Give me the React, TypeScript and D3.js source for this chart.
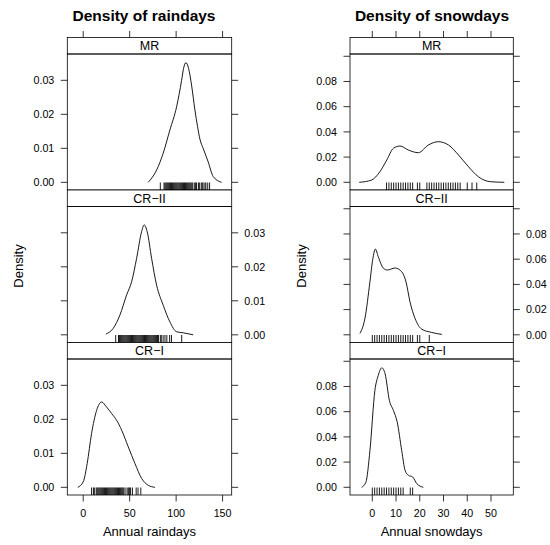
import React from 'react';
import * as d3 from 'd3';

const panelNames = ['MR', 'CR−II', 'CR−I'];

// density curves: [value, density]
const rainMR = [[70, 0], [79, 0.0036], [86, 0.0085], [93.3, 0.0154], [100.5, 0.0222], [105.9, 0.030], [108, 0.0335], [110.5, 0.0352], [113.4, 0.0335], [116.6, 0.0286], [120.2, 0.0213], [123, 0.0165], [125.6, 0.0127], [129.1, 0.010], [134.5, 0.006], [139.9, 0.0017], [148.9, 0]];
const rainCR2 = [[24.4, 0.0002], [32.3, 0.0019], [39.5, 0.0058], [46.7, 0.0117], [52.1, 0.0156], [57.5, 0.0225], [62.8, 0.0303], [65.6, 0.0323], [68.9, 0.0303], [73.6, 0.0225], [79, 0.0146], [86.1, 0.0087], [93.3, 0.0038], [100.5, 0.0009], [107.6, 0.0006], [118.4, 0]];
const rainCR1 = [[-5.8, 0], [0, 0.0016], [4.3, 0.007], [9, 0.0158], [14.4, 0.0226], [19.8, 0.0251], [25.2, 0.0236], [30.6, 0.0217], [36, 0.0197], [41.4, 0.0168], [48.5, 0.0119], [55.7, 0.007], [62.9, 0.0026], [70, 0.0006], [77.2, 0]];

const snowMR = [[-5.5, 0], [-0.3, 0.0018], [3.2, 0.0084], [6.1, 0.0177], [8.9, 0.027], [11.7, 0.0288], [15.2, 0.0256], [19.4, 0.0235], [23.6, 0.0296], [27.8, 0.0322], [32.1, 0.0296], [36.3, 0.0217], [40.5, 0.0124], [44.7, 0.0044], [49.7, 0.0005], [55.6, 0]];
const snowCR2 = [[-5.2, 0.0011], [-3.1, 0.013], [-1, 0.042], [0.2, 0.060], [1.3, 0.068], [2.5, 0.062], [4.6, 0.053], [6.3, 0.0514], [9.6, 0.053], [12.4, 0.050], [14.2, 0.042], [15.9, 0.026], [18, 0.013], [20.8, 0.0045], [25, 0.0019], [29.3, 0.0003]];
const snowCR1 = [[-4.5, 0], [-2.7, 0.004], [-1, 0.029], [1.1, 0.077], [2.5, 0.0887], [4, 0.0948], [5.4, 0.090], [7.2, 0.0689], [8.9, 0.061], [10.5, 0.0517], [12.4, 0.029], [13.8, 0.0135], [15.2, 0.0095], [17, 0.0082], [18.7, 0.003], [21.5, 0]];

// rug observations
const rainMRRug = [83, 87, 88, 89, 90, 91, 92, 93, 94, 95, 96, 97, 98, 99, 100, 101, 102, 103, 104, 105, 106, 107, 108, 109, 110, 111, 112, 113, 114, 115, 116, 117, 118, 120, 121, 122, 124, 125, 127, 128, 129, 131, 132, 134, 136];
const rainCR2Rug = [35, 38, 39, 40, 41, 42, 43, 44, 45, 46, 47, 48, 49, 50, 51, 52, 53, 54, 55, 56, 57, 58, 59, 60, 61, 62, 63, 64, 65, 66, 67, 68, 69, 70, 71, 72, 73, 74, 75, 76, 77, 78, 79, 80, 81, 83, 84, 86, 88, 90, 93, 95, 106];
const rainCR1Rug = [9, 11, 12, 14, 15, 16, 17, 18, 19, 20, 21, 22, 23, 24, 25, 26, 27, 28, 29, 30, 31, 32, 33, 34, 35, 36, 37, 38, 39, 40, 41, 42, 43, 44, 46, 48, 49, 50, 51, 53, 57, 59, 62];
const snowMRRug = [6, 7, 8, 9, 10, 11, 12, 13, 14, 15, 16, 17, 19, 20, 23, 24, 25, 26, 27, 28, 29, 30, 31, 32, 33, 34, 35, 36, 37, 40, 42, 44];
const snowCR2Rug = [0, 1, 2, 3, 4, 5, 6, 7, 8, 9, 10, 11, 12, 13, 14, 15, 16, 17, 19, 20, 24];
const snowCR1Rug = [0, 1, 2, 3, 4, 5, 6, 7, 8, 9, 10, 11, 12, 13, 16, 17];

const rainXTicks = [0, 50, 100, 150];
const snowXTicks = [0, 10, 20, 30, 40, 50];
const rainYTicks = [0, 0.01, 0.02, 0.03];
const snowYTicks = [0, 0.02, 0.04, 0.06, 0.08, 0.10];
const snowYLabelled = [0, 0.02, 0.04, 0.06, 0.08];

const FONT = 'Liberation Sans, Arial, Helvetica, sans-serif';
const TOP = 37.5;
const STRIP = 16.5;
const PANEL = 136;
const TICK = 6.5;

function Lattice({ left, right, title, titleX, xLabel, xDomain, xTicks, yDomain, yTicks, yLabelled, panels }) {
  const x = d3.scaleLinear().domain(xDomain).range([left, right]);
  const fmt = d3.format('.2f');
  const bottomAll = TOP + 3 * (STRIP + PANEL);
  return (
    <g fontFamily={FONT}>
      <text x={titleX} y={21} textAnchor="middle" fontWeight="bold" fontSize={15.5}>{title}</text>
      <text transform={`translate(${left - 49},266) rotate(-90)`} dy="0.35em" textAnchor="middle" fontSize={13}>Density</text>
      {/* top ticks, no labels */}
      {xTicks.map(t => (
        <line key={'tt' + t} x1={x(t)} x2={x(t)} y1={TOP - TICK} y2={TOP} stroke="#000" strokeWidth={0.8} />
      ))}
      {panels.map((p, i) => {
        const sTop = TOP + i * (STRIP + PANEL);
        const pTop = sTop + STRIP;
        const pBot = pTop + PANEL;
        const y = d3.scaleLinear().domain(yDomain).range([pBot, pTop]);
        const line = d3.line().x(d => x(d[0])).y(d => y(d[1])).curve(d3.curveMonotoneX);
        const labelLeft = i !== 1;
        return (
          <g key={p.name}>
            <rect x={left} y={sTop} width={right - left} height={STRIP} fill="#fff" stroke="#000" strokeWidth={0.8} />
            <text x={(left + right) / 2} y={sTop + STRIP / 2} dy="0.36em" textAnchor="middle" fontSize={12.5}>{p.name}</text>
            <rect x={left} y={pTop} width={right - left} height={PANEL} fill="none" stroke="#000" strokeWidth={0.8} />
            {yTicks.map(t => (
              <g key={t}>
                <line x1={left - TICK} x2={left} y1={y(t)} y2={y(t)} stroke="#000" strokeWidth={0.8} />
                <line x1={right} x2={right + TICK} y1={y(t)} y2={y(t)} stroke="#000" strokeWidth={0.8} />
                {yLabelled.includes(t) && (
                  <text x={labelLeft ? left - 13 : right + 12.6} y={y(t)} dy="0.35em" textAnchor={labelLeft ? 'end' : 'start'} fontSize={10.7}>{fmt(t)}</text>
                )}
              </g>
            ))}
            <path d={line(p.curve)} fill="none" stroke="#000" strokeWidth={0.9} />
            {p.rug.map((v, k) => (
              <line key={k} x1={x(v)} x2={x(v)} y1={pBot - 7.5} y2={pBot} stroke="#000" strokeWidth={0.9} />
            ))}
          </g>
        );
      })}
      {xTicks.map(t => (
        <g key={'bt' + t}>
          <line x1={x(t)} x2={x(t)} y1={bottomAll} y2={bottomAll + TICK} stroke="#000" strokeWidth={0.8} />
          <text x={x(t)} y={bottomAll + 21.5} textAnchor="middle" fontSize={10.7}>{t}</text>
        </g>
      ))}
      <text x={(left + right) / 2} y={536} textAnchor="middle" fontSize={13}>{xLabel}</text>
    </g>
  );
}

export default function App() {
  const rainPanels = [
    { name: panelNames[0], curve: rainMR, rug: rainMRRug },
    { name: panelNames[1], curve: rainCR2, rug: rainCR2Rug },
    { name: panelNames[2], curve: rainCR1, rug: rainCR1Rug },
  ];
  const snowPanels = [
    { name: panelNames[0], curve: snowMR, rug: snowMRRug },
    { name: panelNames[1], curve: snowCR2, rug: snowCR2Rug },
    { name: panelNames[2], curve: snowCR1, rug: snowCR1Rug },
  ];
  return (
    <svg width={550} height={545} style={{ position: 'absolute', left: 0, top: 0, background: '#fff' }}>
      <rect width={550} height={545} fill="#fff" />
      <Lattice left={67.3} right={231.7} title="Density of raindays" titleX={144} xLabel="Annual raindays"
        xDomain={[-17.1, 159.8]} xTicks={rainXTicks} yDomain={[-0.00226, 0.03774]} yTicks={rainYTicks}
        yLabelled={rainYTicks} panels={rainPanels} />
      <Lattice left={350} right={513.3} title="Density of snowdays" titleX={432} xLabel="Annual snowdays"
        xDomain={[-9.39, 59.39]} xTicks={snowXTicks} yDomain={[-0.0061, 0.1018]} yTicks={snowYTicks}
        yLabelled={snowYLabelled} panels={snowPanels} />
    </svg>
  );
}
